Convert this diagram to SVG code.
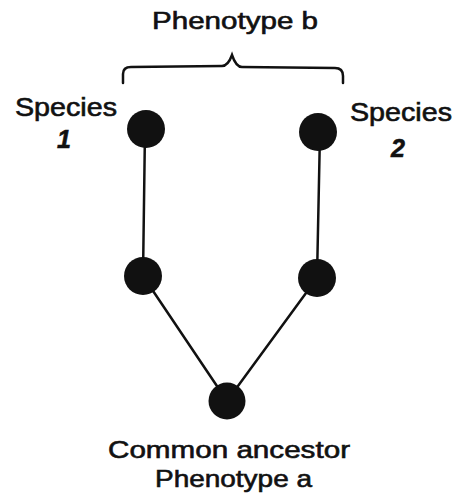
<svg xmlns="http://www.w3.org/2000/svg" width="458" height="497" viewBox="0 0 458 497">
<style>
.t{font-family:"Liberation Sans",Arial,sans-serif;fill:#111;stroke:#111;stroke-width:0.6;}
.n{fill:#111;}
.c{stroke:#111;stroke-width:2.5;fill:none;stroke-linecap:round;}
</style>
<rect width="458" height="497" fill="#fff"/>
<g id="connectors">
<line class="c" x1="145" y1="129" x2="143" y2="276"/>
<line class="c" x1="320" y1="132" x2="317" y2="278"/>
<line class="c" x1="143" y1="276" x2="227" y2="401"/>
<line class="c" x1="317" y1="278" x2="227" y2="401"/>
</g>
<g id="brace">
<path class="c" d="M123,83 L123,74 Q123,67 131,67 L222,66 Q228,66 232,55 Q236,67 242,67 L335,68 Q343,68 343,76 L343,83"/>
</g>
<text class="t" x="152" y="29" font-size="23.5" textLength="166" lengthAdjust="spacingAndGlyphs">Phenotype b</text>
<g id="species1">
<circle class="n" cx="146" cy="129" r="19"/>
<text class="t" x="15" y="116" font-size="25" textLength="102" lengthAdjust="spacingAndGlyphs">Species</text>
<text class="t" x="64" y="148" font-size="25" font-style="italic" font-weight="bold" text-anchor="middle">1</text>
</g>
<g id="species2">
<circle class="n" cx="318" cy="132" r="19"/>
<text class="t" x="350" y="121" font-size="25" textLength="102" lengthAdjust="spacingAndGlyphs">Species</text>
<text class="t" x="398" y="157" font-size="25" font-style="italic" font-weight="bold" text-anchor="middle">2</text>
</g>
<g id="mid1"><circle class="n" cx="143" cy="276" r="19"/></g>
<g id="mid2"><circle class="n" cx="317" cy="278" r="19"/></g>
<g id="ancestor">
<circle class="n" cx="227" cy="401" r="18.5"/>
<text class="t" x="108" y="458" font-size="24" textLength="242" lengthAdjust="spacingAndGlyphs">Common ancestor</text>
<text class="t" x="155" y="487" font-size="24" textLength="157" lengthAdjust="spacingAndGlyphs">Phenotype a</text>
</g>
</svg>
